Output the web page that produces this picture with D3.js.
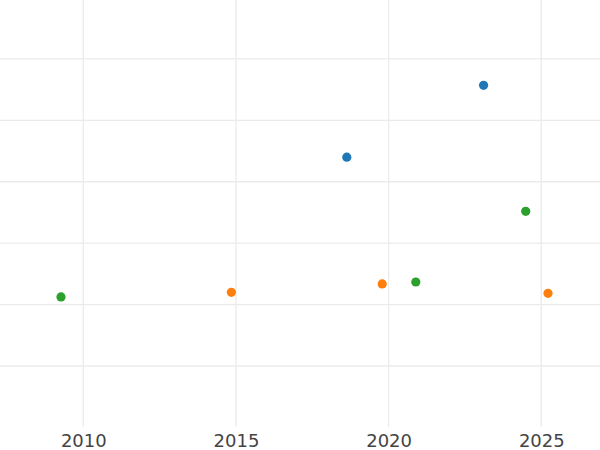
<!DOCTYPE html>
<html>
<head>
<meta charset="utf-8">
<script src="https://cdn.jsdelivr.net/npm/d3@7"></script>
<style>
  html, body { margin: 0; padding: 0; background: #fff; }
  svg { display: block; }
</style>
</head>
<body>
<svg id="chart" width="600" height="450"></svg>
<script>
// ---- data ----
const seriesNames = ["A", "B", "C"];
const seriesColors = ["#1f77b4", "#ff7f0e", "#2ca02c"];
const blueX = [2018.63, 2023.11];
const blueY = [44.0, 55.7];
const orangeX = [2014.85, 2019.79, 2025.22];
const orangeY = [22.0, 23.36, 21.84];
const greenX = [2009.27, 2020.89, 2024.49];
const greenY = [21.24, 23.68, 35.19];
const xTicks = [2010, 2015, 2020, 2025];
const yTicks = [10, 20, 30, 40, 50, 60];

const seriesData = [
  {name: seriesNames[0], color: seriesColors[0], xs: blueX, ys: blueY},
  {name: seriesNames[1], color: seriesColors[1], xs: orangeX, ys: orangeY},
  {name: seriesNames[2], color: seriesColors[2], xs: greenX, ys: greenY}
];

// ---- layout ----
const W = 600, H = 450;
const plotBottom = 427.4;
const x = d3.scaleLinear().domain([2007.272, 2026.923]).range([0, W]);
const y = d3.scaleLinear().domain([0, 69.6]).range([plotBottom, 0]);

const svg = d3.select("#chart");

// horizontal gridlines
svg.append("g")
  .selectAll("line")
  .data(yTicks)
  .join("line")
  .attr("x1", 0).attr("x2", W)
  .attr("y1", d => y(d)).attr("y2", d => y(d))
  .attr("stroke", "#ebebeb").attr("stroke-width", 1.3);

// vertical gridlines
svg.append("g")
  .selectAll("line")
  .data(xTicks)
  .join("line")
  .attr("x1", d => x(d)).attr("x2", d => x(d))
  .attr("y1", 0).attr("y2", plotBottom - 0.4)
  .attr("stroke", "#ebebeb").attr("stroke-width", 1.3);

// x axis labels
const xAxis = svg.append("g")
  .attr("transform", `translate(0,${plotBottom - 0.4})`)
  .call(d3.axisBottom(x).tickValues(xTicks).tickFormat(d3.format("d")).tickSize(0).tickPadding(7));
xAxis.select(".domain").remove();
xAxis.selectAll("text")
  .attr("fill", "#444")
  .style("font-family", "'DejaVu Sans', sans-serif")
  .style("font-size", "18px");

// points
seriesData.forEach(s => {
  svg.append("g")
    .selectAll("circle")
    .data(s.xs.map((xv, i) => ({x: xv, y: s.ys[i]})))
    .join("circle")
    .attr("cx", d => x(d.x))
    .attr("cy", d => y(d.y))
    .attr("r", 4.6)
    .attr("fill", s.color);
});
</script>
</body>
</html>
